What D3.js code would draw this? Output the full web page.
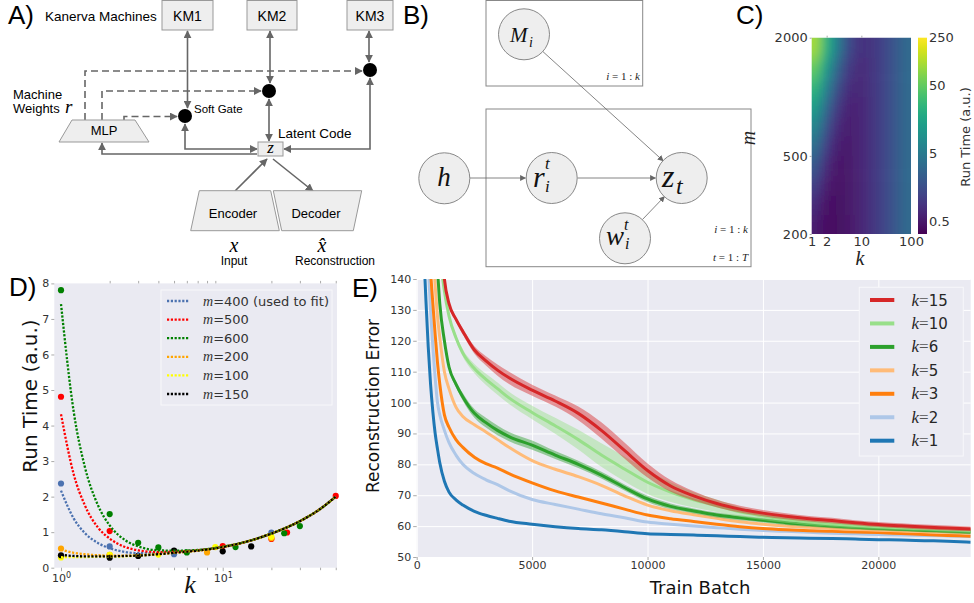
<!DOCTYPE html>
<html>
<head>
<meta charset="utf-8">
<script src="https://cdn.jsdelivr.net/npm/d3@7"></script>
<style>
  body { margin: 0; background: #fff; }
  svg { display: block; }
</style>
</head>
<body>
<svg id="fig" width="974" height="603"></svg>
<script>
// ---------- data ----------

// C) run time heatmap, cell centres (k across, m down) and run times
const heatK = [1.21, 1.78, 2.61, 3.83, 5.62, 8.25, 12.1, 17.8, 26.1, 38.3, 56.2, 82.5];
const heatM = [224, 282, 355, 447, 562, 708, 891, 1122, 1413, 1778];
const heatRunTime = [
    [0.54, 0.42, 0.41, 0.44, 0.49, 0.58, 0.71, 0.91, 1.19, 1.60, 2.21, 3.11],
    [0.73, 0.48, 0.43, 0.44, 0.50, 0.58, 0.71, 0.91, 1.19, 1.60, 2.21, 3.11],
    [1.12, 0.61, 0.47, 0.45, 0.50, 0.58, 0.71, 0.91, 1.19, 1.60, 2.21, 3.11],
    [1.90, 0.85, 0.55, 0.48, 0.51, 0.59, 0.71, 0.91, 1.19, 1.60, 2.21, 3.11],
    [3.45, 1.34, 0.70, 0.53, 0.52, 0.59, 0.71, 0.91, 1.19, 1.60, 2.21, 3.11],
    [6.55, 2.31, 1.01, 0.63, 0.55, 0.60, 0.72, 0.91, 1.19, 1.60, 2.21, 3.11],
    [12.7, 4.24, 1.62, 0.82, 0.61, 0.62, 0.72, 0.91, 1.19, 1.60, 2.21, 3.11],
    [25.1, 8.13, 2.85, 1.21, 0.74, 0.66, 0.74, 0.91, 1.19, 1.60, 2.21, 3.11],
    [49.7, 15.9, 5.31, 1.99, 0.98, 0.74, 0.76, 0.92, 1.19, 1.60, 2.21, 3.11],
    [98.6, 31.3, 10.2, 3.53, 1.47, 0.89, 0.81, 0.94, 1.20, 1.60, 2.21, 3.11],
];
const heatKTicks = [1, 2, 10, 100];
const heatMTicks = [200, 500, 2000];
const cbarTicks = [0.5, 5, 50, 250];

// D) run time vs k
const fitK = [1, 1.2, 1.4, 1.7, 2, 2.5, 3, 4, 5, 7, 10, 15, 20, 30, 40, 50];
const fit400 = [2.17, 1.38, 0.98, 0.69, 0.55, 0.44, 0.41, 0.41, 0.44, 0.49, 0.58, 0.77, 0.96, 1.31, 1.65, 2.0];
const fit500 = [4.32, 2.62, 1.77, 1.12, 0.82, 0.58, 0.49, 0.44, 0.45, 0.49, 0.58, 0.77, 0.96, 1.31, 1.65, 2.0];
const fit600 = [7.42, 4.37, 2.86, 1.74, 1.19, 0.77, 0.60, 0.49, 0.48, 0.50, 0.59, 0.77, 0.96, 1.31, 1.65, 2.0];
const fit200 = [0.51, 0.42, 0.38, 0.35, 0.34, 0.34, 0.35, 0.38, 0.42, 0.48, 0.58, 0.77, 0.96, 1.31, 1.65, 2.0];
const fit100 = [0.30, 0.30, 0.30, 0.31, 0.31, 0.32, 0.34, 0.38, 0.42, 0.48, 0.58, 0.77, 0.96, 1.31, 1.65, 2.0];
const fit150 = [0.36, 0.33, 0.32, 0.32, 0.32, 0.33, 0.34, 0.38, 0.42, 0.48, 0.58, 0.77, 0.96, 1.31, 1.65, 2.0];

const pts400 = [[1, 2.37], [2, 0.60], [5, 0.38], [20, 0.99]];
const pts500 = [[1, 4.81], [2, 1.03], [10, 0.61], [20, 0.81], [25, 0.99], [50, 2.02]];
const pts600 = [[1, 7.81], [2, 1.51], [3, 0.70], [4, 0.57], [6, 0.43], [12, 0.58], [24, 0.97], [30, 1.17]];
const pts200 = [[1, 0.54], [2, 0.36], [8, 0.43], [20, 0.83]];
const pts100 = [[1, 0.29], [2, 0.36], [4, 0.37], [9, 0.58], [20, 0.87]];
const pts150 = [[1, 0.35], [2, 0.28], [3, 0.33], [5, 0.48], [10, 0.46], [15, 0.60]];

const dLabels = ['400 (used to fit)', '500', '600', '200', '100', '150'];
const dYTicks = [0, 1, 2, 3, 4, 5, 6, 7, 8];
const dMinorTicks = [2, 3, 4, 5, 6, 7, 8, 9, 20, 30, 40, 50];

// E) reconstruction error vs train batch
const batches = [300, 400, 500, 600, 700, 800, 900, 1000, 1200, 1400, 1700, 2000, 2500, 3000, 3500, 4000,
    5000, 6000, 7000, 8000, 9000, 10000, 11000, 12000, 13000, 14000, 15000, 16000, 17000, 18000,
    19000, 20000, 21000, 22000, 23000, 24000];
const errK1 = [150, 133, 118, 106, 97, 90, 85, 80.5, 74.5, 71, 68.5, 66.8, 64.8, 63.5, 62.5, 61.6,
    60.6, 59.8, 59.2, 58.8, 58.2, 57.5, 57.3, 57.1, 56.9, 56.6, 56.4, 56.2, 56.1, 56.0,
    55.8, 55.6, 55.5, 55.3, 55.1, 54.8];
const errK2 = [170, 158, 145, 130, 118, 108, 100, 96, 91, 87, 83, 80, 77, 75, 73.4, 71.5,
    68.6, 67, 65.5, 64, 62.7, 61.3, 60.6, 60, 59.5, 59, 58.6, 58.3, 58, 57.7,
    57.5, 57.3, 57.1, 57, 56.8, 56.6];
const errK3 = [180, 170, 160, 143, 132, 122, 113, 106, 96, 92, 88, 85.5, 82.3, 80.2, 78.8, 77,
    74, 71.4, 69.4, 67.5, 65.5, 63.6, 62.4, 61.5, 60.6, 59.8, 59.2, 58.8, 58.5, 58.3,
    58.1, 57.9, 57.6, 57.3, 57, 56.7];
const errK5 = [190, 180, 170, 160, 150, 138, 128, 121, 110, 104.5, 98.5, 95.5, 92.8, 90.5, 88, 85.5,
    81.2, 78.4, 76, 73.2, 69.8, 66.8, 65, 63.7, 62.5, 61.4, 60.6, 60, 59.6, 59.2,
    58.9, 58.7, 58.4, 58.2, 58, 57.8];
const errK6 = [200, 190, 180, 170, 160, 152, 143, 132, 120, 111.5, 106, 101.8, 96.5, 93.5, 91, 89,
    86.2, 83, 80, 76.5, 72.5, 68.8, 66.4, 64.9, 63.6, 62.7, 61.9, 61.1, 60.5, 60,
    59.6, 59.3, 59, 58.7, 58.4, 58.1];
const errK10 = [200, 195, 190, 185, 180, 170, 160, 149, 136, 128, 121, 116, 111, 107.5, 104.5, 101.5,
    96.8, 92.5, 88, 83, 78.5, 74.2, 71, 68.5, 66.6, 64.6, 63.3, 62.2, 61.3, 60.7,
    60.2, 59.8, 59.5, 59.2, 58.9, 58.6];
const errK15 = [210, 205, 200, 195, 190, 180, 170, 160, 140, 132, 127, 123, 117, 113.5, 110.5, 108,
    104, 100.5, 96.5, 91, 84.5, 78, 73, 69.8, 67.3, 65.5, 64.2, 63.2, 62.4, 61.8,
    61.1, 60.5, 60.1, 59.7, 59.4, 59.1];
// half widths of the shaded spread
const spreadK6 = [0, 0, 0, 0, 0, 0, 0, 0, 0.6, 0.8, 1, 1.2, 1.4, 1.6, 1.6, 1.5,
    1.5, 1.3, 1.2, 1.1, 1, 1, 0.9, 0.8, 0.8, 0.8, 0.7, 0.7, 0.7, 0.7, 0.7, 0.7, 0.7, 0.7, 0.7, 0.7];
const spreadK10 = [0, 0, 0, 0, 0, 0, 0, 0, 0.5, 0.8, 1, 1.2, 1.5, 1.8, 2, 2,
    2.2, 2.6, 3.2, 3.8, 4, 3.8, 3.2, 2.5, 2, 1.6, 1.3, 1.1, 1, 0.9, 0.9, 0.8, 0.8, 0.8, 0.8, 0.8];
const spreadK15 = [0, 0, 0, 0, 0, 0, 0, 0, 0.5, 0.6, 0.8, 1, 1.2, 1.5, 1.8, 2,
    1.8, 1.8, 2.2, 2.6, 2.6, 2.3, 1.9, 1.5, 1.2, 1.1, 1, 1, 0.9, 0.9, 0.8, 0.8, 0.8, 0.8, 0.8, 0.8];
const eLegend = ['15', '10', '6', '5', '3', '2', '1'];
const eXTicks = [0, 5000, 10000, 15000, 20000];
const eYTicks = [50, 60, 70, 80, 90, 100, 110, 120, 130, 140];

// ---------- setup ----------
const svg = d3.select('#fig');
const defs = svg.append('defs');
const SANS = 'DejaVu Sans, sans-serif';
const ARIAL = 'Liberation Sans, Arial, sans-serif';
const SERIF = 'Liberation Serif, DejaVu Serif, serif';

function addMarker(id, size, color) {
    defs.append('marker')
        .attr('id', id)
        .attr('viewBox', '0 0 10 10')
        .attr('refX', 9).attr('refY', 5)
        .attr('markerWidth', size).attr('markerHeight', size)
        .attr('markerUnits', 'userSpaceOnUse')
        .attr('orient', 'auto-start-reverse')
        .append('path').attr('d', 'M0,0L10,5L0,10z').attr('fill', color);
}
addMarker('arrA', 8, '#666');
addMarker('arrB', 6, '#666');

function panelLetter(x, y, s) {
    svg.append('text').attr('x', x).attr('y', y).text(s)
        .attr('font-family', ARIAL).attr('font-size', 26).attr('fill', '#000');
}

// ---------- A) architecture diagram ----------
const A = svg.append('g');
panelLetter(8, 24, 'A)');
A.append('text').attr('x', 45).attr('y', 21).text('Kanerva Machines')
    .attr('font-family', ARIAL).attr('font-size', 13.5);

[['KM1', 162, 213], ['KM2', 247, 297], ['KM3', 347, 393]].forEach(([lab, x0, x1]) => {
    A.append('rect').attr('x', x0).attr('y', 0.5).attr('width', x1 - x0).attr('height', 29.5)
        .attr('fill', '#eeeeee').attr('stroke', '#999');
    A.append('text').attr('x', (x0 + x1) / 2).attr('y', 21).attr('text-anchor', 'middle').text(lab)
        .attr('font-family', ARIAL).attr('font-size', 14);
});

const lineA = d3.line();
function pathA(pts, both, dashed) {
    const p = A.append('path').attr('d', lineA(pts)).attr('fill', 'none')
        .attr('stroke', '#666').attr('stroke-width', 1.6)
        .attr('marker-end', 'url(#arrA)');
    if (both) p.attr('marker-start', 'url(#arrA)');
    if (dashed) p.attr('stroke-dasharray', '7,4');
}
pathA([[187.5, 31], [187.5, 108]], true);
pathA([[270, 31], [270, 83]], true);
pathA([[369, 31], [369, 62]], true);
pathA([[185, 124], [185, 149], [257, 149]], true);
pathA([[269, 99], [269, 141]], true);
pathA([[370, 78], [370, 149], [284, 149]], true);
pathA([[257, 154], [102, 154], [102, 143]], false);
pathA([[235, 191], [267, 159]], false);
pathA([[273, 159], [313, 191]], false);
pathA([[85, 120], [85, 71], [362, 71]], false, true);
pathA([[102, 120], [102, 91], [261, 91]], false, true);
pathA([[124, 120], [124, 116.5], [177, 116.5]], false, true);

[[185, 116], [269, 91], [370, 70]].forEach(([cx, cy]) => {
    A.append('circle').attr('cx', cx).attr('cy', cy).attr('r', 7).attr('fill', '#000');
});

A.append('path').attr('d', 'M72,120L135,120L149,142L59,142Z')
    .attr('fill', '#eeeeee').attr('stroke', '#999');
A.append('text').attr('x', 104).attr('y', 135).attr('text-anchor', 'middle').text('MLP')
    .attr('font-family', ARIAL).attr('font-size', 13);
A.append('text').attr('x', 13).attr('y', 99).text('Machine')
    .attr('font-family', ARIAL).attr('font-size', 13);
A.append('text').attr('x', 13).attr('y', 113).text('Weights')
    .attr('font-family', ARIAL).attr('font-size', 13);
A.append('text').attr('x', 65).attr('y', 113).text('r')
    .attr('font-family', SERIF).attr('font-style', 'italic').attr('font-size', 19);
A.append('text').attr('x', 194).attr('y', 113).text('Soft Gate')
    .attr('font-family', ARIAL).attr('font-size', 11.5);
A.append('text').attr('x', 278).attr('y', 138).text('Latent Code')
    .attr('font-family', ARIAL).attr('font-size', 13.5);

A.append('rect').attr('x', 258).attr('y', 142).attr('width', 25).attr('height', 14)
    .attr('fill', '#eeeeee').attr('stroke', '#999');
A.append('text').attr('x', 270.5).attr('y', 153).attr('text-anchor', 'middle').text('z')
    .attr('font-family', SERIF).attr('font-style', 'italic').attr('font-size', 17);

A.append('path').attr('d', 'M199.3,190.7L270.7,190.7L279.3,230.7L190.7,230.7Z')
    .attr('fill', '#eeeeee').attr('stroke', '#999');
A.append('path').attr('d', 'M273.3,190.7L361.7,190.7L353.3,230.7L281.7,230.7Z')
    .attr('fill', '#eeeeee').attr('stroke', '#999');
A.append('text').attr('x', 233).attr('y', 218).attr('text-anchor', 'middle').text('Encoder')
    .attr('font-family', ARIAL).attr('font-size', 13);
A.append('text').attr('x', 316).attr('y', 218).attr('text-anchor', 'middle').text('Decoder')
    .attr('font-family', ARIAL).attr('font-size', 13);
A.append('text').attr('x', 234).attr('y', 252).attr('text-anchor', 'middle').text('x')
    .attr('font-family', SERIF).attr('font-style', 'italic').attr('font-size', 20);
A.append('text').attr('x', 322).attr('y', 252).attr('text-anchor', 'middle').text('x\u0302')
    .attr('font-family', SERIF).attr('font-style', 'italic').attr('font-size', 20);
A.append('text').attr('x', 234).attr('y', 265).attr('text-anchor', 'middle').text('Input')
    .attr('font-family', ARIAL).attr('font-size', 12);
A.append('text').attr('x', 335).attr('y', 265).attr('text-anchor', 'middle').text('Reconstruction')
    .attr('font-family', ARIAL).attr('font-size', 12);

// ---------- B) graphical model ----------
const B = svg.append('g');
panelLetter(403, 24, 'B)');
B.append('rect').attr('x', 486).attr('y', 0.5).attr('width', 156.7).attr('height', 85.5)
    .attr('fill', 'none').attr('stroke', '#888');
B.append('rect').attr('x', 486).attr('y', 109).attr('width', 265).attr('height', 157.7)
    .attr('fill', 'none').attr('stroke', '#888');

const lineB = d3.line();
[[[470, 178], [525.5, 178]], [[577.5, 178], [655.5, 178]],
 [[542.8, 51.5], [663.2, 160.8]], [[642.5, 219.5], [664.5, 196.5]]].forEach(pts => {
    B.append('path').attr('d', lineB(pts)).attr('fill', 'none')
        .attr('stroke', '#666').attr('stroke-width', 0.8).attr('marker-end', 'url(#arrB)');
});

[[524, 34.3], [444.3, 178.3], [551.7, 178], [681.7, 178], [625, 238.3]].forEach(([cx, cy]) => {
    B.append('circle').attr('cx', cx).attr('cy', cy).attr('r', 25.5)
        .attr('fill', '#eeeeee').attr('stroke', '#888');
});

function mathText(g, x, y, s, size, italic) {
    return g.append('text').attr('x', x).attr('y', y).text(s)
        .attr('font-family', SERIF).attr('font-style', italic ? 'italic' : 'normal')
        .attr('font-size', size).attr('fill', '#111');
}
mathText(B, 510, 42, 'M', 21, true);
mathText(B, 529, 47, 'i', 14, true);
mathText(B, 444, 186, 'h', 27, true).attr('text-anchor', 'middle');
mathText(B, 533, 187, 'r', 30, true);
mathText(B, 545, 169, 't', 17, true);
mathText(B, 545, 192, 'i', 17, true);
mathText(B, 662, 187, 'z', 32, true);
mathText(B, 676, 194, 't', 24, true);
mathText(B, 606, 245, 'w', 27, true);
mathText(B, 624, 230, 't', 16, true);
mathText(B, 625, 249, 'i', 16, true);

function plateLabel(x, y, a, b) {
    const t = B.append('text').attr('x', x).attr('y', y).attr('text-anchor', 'end')
        .attr('font-family', SERIF).attr('font-size', 11).attr('fill', '#222');
    t.append('tspan').attr('font-style', 'italic').text(a);
    t.append('tspan').text(' = 1 : ');
    t.append('tspan').attr('font-style', 'italic').text(b);
}
plateLabel(640, 80, 'i', 'k');
plateLabel(748, 233, 'i', 'k');
plateLabel(748, 261, 't', 'T');

// ---------- C) heatmap ----------
const C = svg.append('g');
panelLetter(736, 24, 'C)');
const cX = d3.scaleLog().domain([1, 100]).range([811.7, 911]);
const cY = d3.scaleLog().domain([200, 2000]).range([234, 37.7]);
const cColor = d3.scaleSequentialLog(d3.interpolateViridis).domain([0.32, 250]);

defs.append('clipPath').attr('id', 'clipC').append('rect')
    .attr('x', cX.range()[0]).attr('y', cY.range()[1])
    .attr('width', cX.range()[1] - cX.range()[0]).attr('height', cY.range()[0] - cY.range()[1]);
const blur = defs.append('filter').attr('id', 'soft')
    .attr('x', -0.1).attr('y', -0.1).attr('width', 1.2).attr('height', 1.2);
blur.append('feGaussianBlur').attr('stdDeviation', '5 8');

const cells = [];
heatM.forEach((m, j) => heatK.forEach((k, i) => cells.push({ i, j, v: heatRunTime[j][i] })));
function edgeX(i) {
    if (i <= 0) return cX.range()[0] - 25;
    if (i >= heatK.length) return cX.range()[1] + 25;
    return cX(Math.sqrt(heatK[i - 1] * heatK[i]));
}
function edgeY(j) {
    if (j <= 0) return cY.range()[0] + 35;
    if (j >= heatM.length) return cY.range()[1] - 35;
    return cY(Math.sqrt(heatM[j - 1] * heatM[j]));
}
C.append('g').attr('clip-path', 'url(#clipC)')
    .append('g').attr('filter', 'url(#soft)')
    .selectAll('rect').data(cells).join('rect')
    .attr('x', d => edgeX(d.i))
    .attr('y', d => edgeY(d.j + 1))
    .attr('width', d => edgeX(d.i + 1) - edgeX(d.i) + 0.5)
    .attr('height', d => edgeY(d.j) - edgeY(d.j + 1) + 0.5)
    .attr('fill', d => cColor(d.v));

function styleAxis(g, size, color) {
    g.select('.domain').remove();
    g.selectAll('.tick line').attr('stroke', '#aaa');
    g.selectAll('.tick text').attr('font-family', SANS).attr('font-size', size).attr('fill', color);
}
C.append('g').attr('transform', `translate(${cX.range()[0]},0)`)
    .call(d3.axisLeft(cY).tickValues(heatMTicks).tickFormat(d3.format('d')).tickSize(2).tickPadding(2))
    .call(g => styleAxis(g, 13, '#333'));
C.append('g').attr('transform', `translate(0,${cY.range()[0]})`)
    .call(d3.axisBottom(cX).tickValues(heatKTicks).tickFormat(d3.format('d')).tickSize(0).tickPadding(3))
    .call(g => styleAxis(g, 13, '#333'));
C.append('g').attr('transform', `translate(0,${cY.range()[1]})`)
    .call(d3.axisTop(cX).tickValues([2, 10]).tickFormat('').tickSize(2))
    .call(g => styleAxis(g, 13, '#333'));

const grad = defs.append('linearGradient').attr('id', 'viridisV')
    .attr('x1', 0).attr('y1', 1).attr('x2', 0).attr('y2', 0);
d3.range(0, 1.0001, 0.05).forEach(t => {
    grad.append('stop').attr('offset', t).attr('stop-color', d3.interpolateViridis(t));
});
const cbY = d3.scaleLog().domain(cColor.domain()).range([234, 37.7]);
C.append('rect').attr('x', 918).attr('y', cbY.range()[1]).attr('width', 9)
    .attr('height', cbY.range()[0] - cbY.range()[1]).attr('fill', 'url(#viridisV)');
C.append('g').attr('transform', 'translate(927,0)')
    .call(d3.axisRight(cbY).tickValues(cbarTicks).tickFormat(d => String(d)).tickSize(0).tickPadding(2))
    .call(g => styleAxis(g, 13, '#333'));
C.append('text').attr('transform', 'translate(970,137) rotate(-90)').attr('text-anchor', 'middle')
    .text('Run Time (a.u.)').attr('font-family', SANS).attr('font-size', 13).attr('fill', '#333');
C.append('text').attr('x', 860).attr('y', 265).attr('text-anchor', 'middle').text('k')
    .attr('font-family', SERIF).attr('font-style', 'italic').attr('font-size', 20).attr('fill', '#222');
C.append('text').attr('transform', 'translate(755,138) rotate(-90)').attr('text-anchor', 'middle')
    .text('m').attr('font-family', SERIF).attr('font-style', 'italic').attr('font-size', 20).attr('fill', '#222');

// ---------- D) run time vs k ----------
const D = svg.append('g');
panelLetter(9, 296, 'D)');
const dX = d3.scaleLog().domain([0.909, 50.9]).range([54.3, 337]);
const dY = d3.scaleLinear().domain([0, 8]).range([567.7, 283.4]);
D.append('rect').attr('x', dX.range()[0]).attr('y', dY.range()[1])
    .attr('width', dX.range()[1] - dX.range()[0]).attr('height', dY.range()[0] - dY.range()[1])
    .attr('fill', '#eaeaf2');

const dSeries = [
    { fit: fit400, pts: pts400, color: '#4c72b0' },
    { fit: fit500, pts: pts500, color: '#ff0000' },
    { fit: fit600, pts: pts600, color: '#008000' },
    { fit: fit200, pts: pts200, color: '#ffa500' },
    { fit: fit100, pts: pts100, color: '#ffff00' },
    { fit: fit150, pts: pts150, color: '#000000' },
];
const dLine = d3.line().x(d => dX(d[0])).y(d => dY(d[1])).curve(d3.curveMonotoneX);
dSeries.forEach(s => {
    D.append('g').selectAll('circle').data(s.pts).join('circle')
        .attr('cx', d => dX(d[0])).attr('cy', d => dY(d[1])).attr('r', 3.1)
        .attr('fill', s.color);
});
dSeries.forEach(s => {
    D.append('path').attr('d', dLine(fitK.map((k, i) => [k, s.fit[i]])))
        .attr('fill', 'none').attr('stroke', s.color).attr('stroke-width', 2.3)
        .attr('stroke-dasharray', '2.2,1.6');
});

D.append('g').attr('transform', `translate(${dX.range()[0]},0)`)
    .call(d3.axisLeft(dY).tickValues(dYTicks).tickFormat(d3.format('d')).tickSize(3).tickPadding(2))
    .call(g => styleAxis(g, 11, '#333'));
D.append('g').attr('transform', `translate(0,${dY.range()[0]})`)
    .call(d3.axisBottom(dX).tickValues(dMinorTicks).tickFormat('').tickSize(2.5))
    .call(g => styleAxis(g, 11, '#333'));
D.append('g').attr('transform', `translate(0,${dY.range()[1]})`)
    .call(d3.axisTop(dX).tickValues(dMinorTicks).tickFormat('').tickSize(2.5))
    .call(g => styleAxis(g, 11, '#333'));
D.append('g').attr('transform', `translate(0,${dY.range()[0]})`)
    .call(d3.axisBottom(dX).tickValues([1, 10]).tickFormat('').tickSize(3.5))
    .call(g => styleAxis(g, 11, '#333'))
    .selectAll('.tick').each(function (d) {
        const t = d3.select(this).append('text').attr('y', 14).attr('text-anchor', 'middle')
            .attr('font-family', SANS).attr('font-size', 11).attr('fill', '#333');
        t.append('tspan').text('10');
        t.append('tspan').attr('dy', -4).attr('font-size', 8).text(Math.round(Math.log10(d)));
    });
D.append('text').attr('transform', 'translate(37,396) rotate(-90)').attr('text-anchor', 'middle')
    .text('Run Time (a.u.)').attr('font-family', SANS).attr('font-size', 20).attr('fill', '#111');
D.append('text').attr('x', 190).attr('y', 593).attr('text-anchor', 'middle').text('k')
    .attr('font-family', SERIF).attr('font-style', 'italic').attr('font-size', 26).attr('fill', '#111');

const dLeg = D.append('g');
dLeg.append('rect').attr('x', 161).attr('y', 290).attr('width', 171).attr('height', 115)
    .attr('fill', '#eaeaf2').attr('stroke', '#f7f7fa').attr('stroke-width', 1);
dSeries.forEach((s, i) => {
    const y = 301 + i * 18.6;
    dLeg.append('line').attr('x1', 167).attr('x2', 189).attr('y1', y).attr('y2', y)
        .attr('stroke', s.color).attr('stroke-width', 2.3).attr('stroke-dasharray', '2.2,1.6');
    const t = dLeg.append('text').attr('x', 203).attr('y', y + 4.5)
        .attr('font-family', SANS).attr('font-size', 13).attr('fill', '#333');
    t.append('tspan').attr('font-family', SERIF).attr('font-style', 'italic').attr('font-size', 14).text('m');
    t.append('tspan').text('=' + dLabels[i]);
});

// ---------- E) reconstruction error ----------
const E = svg.append('g');
panelLetter(352, 297, 'E)');
const eX = d3.scaleLinear().domain([0, 24000]).range([416.7, 970.7]);
const eY = d3.scaleLinear().domain([50, 140]).range([557, 279]);
const eW = eX.range()[1] - eX.range()[0];
const eH = eY.range()[0] - eY.range()[1];
E.append('rect').attr('x', eX.range()[0]).attr('y', eY.range()[1]).attr('width', eW).attr('height', eH)
    .attr('fill', '#eaeaf2');
E.append('g').attr('transform', `translate(0,${eY.range()[0]})`)
    .call(d3.axisBottom(eX).tickValues(eXTicks).tickSize(-eH).tickFormat(''))
    .call(g => g.select('.domain').remove())
    .selectAll('line').attr('stroke', '#fff').attr('stroke-width', 1);
E.append('g').attr('transform', `translate(${eX.range()[0]},0)`)
    .call(d3.axisLeft(eY).tickValues(eYTicks).tickSize(-eW).tickFormat(''))
    .call(g => g.select('.domain').remove())
    .selectAll('line').attr('stroke', '#fff').attr('stroke-width', 1);

defs.append('clipPath').attr('id', 'clipE').append('rect')
    .attr('x', eX.range()[0]).attr('y', eY.range()[1]).attr('width', eW).attr('height', eH);
const eSeries = [
    { vals: errK1, color: '#1f77b4' },
    { vals: errK2, color: '#aec7e8' },
    { vals: errK3, color: '#ff7f0e' },
    { vals: errK5, color: '#ffbb78' },
    { vals: errK6, color: '#2ca02c', spread: spreadK6 },
    { vals: errK10, color: '#98df8a', spread: spreadK10 },
    { vals: errK15, color: '#d62728', spread: spreadK15 },
];
const ePlot = E.append('g').attr('clip-path', 'url(#clipE)');
const eLine = d3.line().x((d, i) => eX(batches[i])).y(d => eY(d)).curve(d3.curveMonotoneX);
eSeries.forEach(s => {
    if (s.spread) {
        const area = d3.area()
            .x((d, i) => eX(batches[i]))
            .y0((d, i) => eY(d - s.spread[i]))
            .y1((d, i) => eY(d + s.spread[i]))
            .curve(d3.curveMonotoneX);
        ePlot.append('path').attr('d', area(s.vals)).attr('fill', s.color).attr('opacity', 0.45);
    }
    ePlot.append('path').attr('d', eLine(s.vals)).attr('fill', 'none')
        .attr('stroke', s.color).attr('stroke-width', 3).attr('stroke-linejoin', 'round');
});

E.append('g').attr('transform', `translate(${eX.range()[0]},0)`)
    .call(d3.axisLeft(eY).tickValues(eYTicks).tickSize(3.5).tickPadding(2))
    .call(g => styleAxis(g, 11, '#333'));
E.append('g').attr('transform', `translate(0,${eY.range()[0]})`)
    .call(d3.axisBottom(eX).tickValues(eXTicks).tickFormat(d3.format('d')).tickSize(3).tickPadding(1))
    .call(g => styleAxis(g, 11, '#333'));
E.append('text').attr('transform', 'translate(379,406) rotate(-90)').attr('text-anchor', 'middle')
    .text('Reconstruction Error').attr('font-family', SANS).attr('font-size', 17).attr('fill', '#111');
E.append('text').attr('x', 700).attr('y', 594).attr('text-anchor', 'middle').text('Train Batch')
    .attr('font-family', SANS).attr('font-size', 18).attr('fill', '#111');

const eLeg = E.append('g');
eLeg.append('rect').attr('x', 859.3).attr('y', 287.3).attr('width', 104).attr('height', 168.7)
    .attr('fill', '#eaeaf2').attr('stroke', '#f7f7fa').attr('stroke-width', 1);
eSeries.slice().reverse().forEach((s, i) => {
    const y = 300 + i * 23.45;
    eLeg.append('line').attr('x1', 870).attr('x2', 894.3).attr('y1', y).attr('y2', y)
        .attr('stroke', s.color).attr('stroke-width', 4);
    const t = eLeg.append('text').attr('x', 911.5).attr('y', y + 5.5)
        .attr('font-family', SANS).attr('font-size', 15).attr('fill', '#262626');
    t.append('tspan').attr('font-family', SERIF).attr('font-style', 'italic').attr('font-size', 17).text('k');
    t.append('tspan').attr('font-family', SERIF).attr('font-size', 17).attr('fill', '#555').text('=');
    t.append('tspan').text(eLegend[i]);
});
</script>
</body>
</html>
